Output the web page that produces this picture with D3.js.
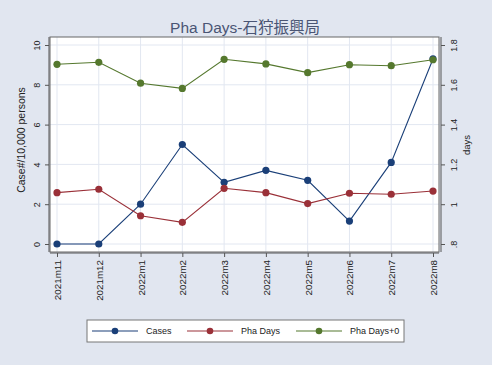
<!DOCTYPE html>
<html>
<head>
<meta charset="utf-8">
<script src="https://cdn.jsdelivr.net/npm/d3@7"></script>
<style>
  html, body { margin: 0; padding: 0; background: #e1e6f0; }
  svg { display: block; }
  text { font-family: "Liberation Sans", "DejaVu Sans", "Noto Sans CJK JP", sans-serif; }
</style>
</head>
<body>
<script>
// Monthly periods on the x axis
const months = ["2021m11", "2021m12", "2022m1", "2022m2", "2022m3", "2022m4", "2022m5", "2022m6", "2022m7", "2022m8"];
// Cases per 10,000 persons (left axis)
const cases = [0, 0, 2.0, 5.0, 3.1, 3.7, 3.2, 1.15, 4.1, 9.3];
// Pharmacy days (right axis)
const phaDays = [1.058, 1.075, 0.942, 0.909, 1.08, 1.058, 1.003, 1.055, 1.05, 1.066];
const phaDays0 = [1.703, 1.713, 1.608, 1.582, 1.728, 1.705, 1.661, 1.701, 1.696, 1.726];
const leftTicks = [0, 2, 4, 6, 8, 10];
const rightTicks = [0.8, 1, 1.2, 1.4, 1.6, 1.8];
const rightTickLabels = [".8", "1", "1.2", "1.4", "1.6", "1.8"];

const W = 492, H = 365;
const plot = { left: 50, right: 439, top: 37, bottom: 252 };

const svg = d3.select("body").append("svg").attr("width", W).attr("height", H);
svg.append("rect").attr("width", W).attr("height", H).attr("fill", "#e1e6f0");

const x = d3.scalePoint().domain(months).range([57, 433]);
const yL = d3.scaleLinear().domain([0, 10]).range([244, 45]);
const yR = d3.scaleLinear().domain([0.8, 1.8]).range([244, 45]);

// plot area
svg.append("rect")
  .attr("x", plot.left).attr("y", plot.top)
  .attr("width", plot.right - plot.left).attr("height", plot.bottom - plot.top)
  .attr("fill", "#ffffff");

// grid lines
const grid = svg.append("g").attr("stroke", "#e2e7f1").attr("stroke-width", 1);
grid.selectAll("line.v").data(months).join("line")
  .attr("x1", d => x(d)).attr("x2", d => x(d))
  .attr("y1", plot.top).attr("y2", plot.bottom);
grid.selectAll("line.h").data(leftTicks).join("line")
  .attr("x1", plot.left).attr("x2", plot.right)
  .attr("y1", d => yL(d)).attr("y2", d => yL(d));

// left axis
const axL = svg.append("g").attr("transform", `translate(${plot.left - 1},0)`)
  .call(d3.axisLeft(yL).tickValues(leftTicks).tickSize(4).tickSizeOuter(0).tickFormat(d3.format("d")));
axL.select(".domain").attr("d", `M0,${plot.top}V${plot.bottom}`);
axL.selectAll(".tick text")
  .attr("x", 0).attr("dy", null)
  .attr("transform", "translate(-9,0) rotate(-90)")
  .attr("text-anchor", "middle")
  .style("font-size", "9px").attr("fill", "#222");

// right axis
const axR = svg.append("g").attr("transform", `translate(${plot.right + 2},0)`)
  .call(d3.axisRight(yR).tickValues(rightTicks).tickSize(4).tickSizeOuter(0)
    .tickFormat((d, i) => rightTickLabels[i]));
axR.select(".domain").attr("d", `M0,${plot.top}V${plot.bottom}`);
axR.selectAll(".tick text")
  .attr("x", 0).attr("dy", null)
  .attr("transform", "translate(16,0) rotate(-90)")
  .attr("text-anchor", "middle")
  .style("font-size", "9px").attr("fill", "#222");

// bottom axis
const axB = svg.append("g").attr("transform", `translate(0,${plot.bottom + 1})`)
  .call(d3.axisBottom(x).tickSize(4).tickSizeOuter(0));
axB.select(".domain").attr("d", `M${plot.left},0H${plot.right}`);
axB.selectAll(".tick text")
  .attr("x", 0).attr("y", 0).attr("dy", null)
  .attr("transform", "translate(3.5,7) rotate(-90)")
  .attr("text-anchor", "end")
  .style("font-size", "9.8px").attr("fill", "#222");

svg.selectAll(".domain").attr("stroke", "#555");
svg.selectAll(".tick line").attr("stroke", "#555");

// plot border
svg.append("rect")
  .attr("x", plot.left).attr("y", plot.top)
  .attr("width", plot.right - plot.left).attr("height", plot.bottom - plot.top)
  .attr("fill", "none").attr("stroke", "#666").attr("stroke-width", 1);

// series
const series = [
  { name: "Cases", values: cases, y: yL, color: "#1a3f78" },
  { name: "Pha Days", values: phaDays, y: yR, color: "#9a3038" },
  { name: "Pha Days+0", values: phaDays0, y: yR, color: "#55782e" }
];
series.forEach(s => {
  const line = d3.line().x((d, i) => x(months[i])).y(d => s.y(d));
  svg.append("path").datum(s.values)
    .attr("d", line).attr("fill", "none")
    .attr("stroke", s.color).attr("stroke-width", 1.1);
  svg.append("g").selectAll("circle").data(s.values).join("circle")
    .attr("cx", (d, i) => x(months[i])).attr("cy", d => s.y(d))
    .attr("r", 3.6).attr("fill", s.color);
});

// title
svg.append("text").attr("x", 245).attr("y", 33)
  .attr("text-anchor", "middle").style("font-size", "15.5px").attr("fill", "#4a5574")
  .text("Pha Days-石狩振興局");

// axis titles
svg.append("text")
  .attr("transform", "translate(25,140) rotate(-90)")
  .attr("text-anchor", "middle").style("font-size", "10.5px").attr("fill", "#222")
  .text("Case#/10,000 persons");
svg.append("text")
  .attr("transform", "translate(470,145) rotate(-90)")
  .attr("text-anchor", "middle").style("font-size", "9.5px").attr("fill", "#222")
  .text("days");

// legend
const lg = svg.append("g");
lg.append("rect").attr("x", 87).attr("y", 320).attr("width", 317).attr("height", 22)
  .attr("fill", "#ffffff").attr("stroke", "#777").attr("stroke-width", 1);
const legendPos = [92, 187, 296];
series.forEach((s, i) => {
  const x0 = legendPos[i];
  lg.append("line").attr("x1", x0).attr("x2", x0 + 46).attr("y1", 331).attr("y2", 331)
    .attr("stroke", s.color).attr("stroke-width", 1.1);
  lg.append("circle").attr("cx", x0 + 23).attr("cy", 331).attr("r", 3.3).attr("fill", s.color);
  lg.append("text").attr("x", x0 + 54).attr("y", 334)
    .style("font-size", "9px").attr("fill", "#222").text(s.name);
});
</script>
</body>
</html>
